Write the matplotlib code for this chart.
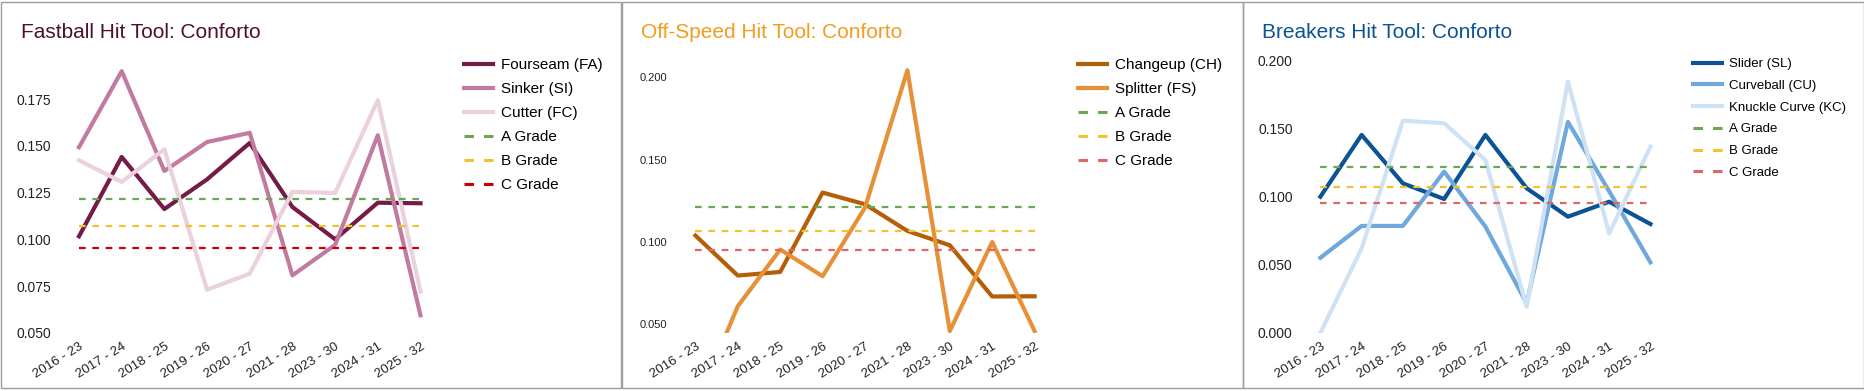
import matplotlib
matplotlib.use("Agg")
import matplotlib.pyplot as plt
from matplotlib.patches import Rectangle
from matplotlib.lines import Line2D

plt.rcParams['font.family'] = ['Liberation Sans', 'DejaVu Sans']

seasons = ['2016 - 23', '2017 - 24', '2018 - 25', '2019 - 26', '2020 - 27',
           '2021 - 28', '2023 - 30', '2024 - 31', '2025 - 32']

# grade thresholds (same in every panel)
grade_a = 0.1216
grade_b = 0.1070
grade_c = 0.0955

# fastballs
fourseam = [0.1016, 0.1441, 0.1162, 0.1321, 0.1516, 0.1173, 0.1000, 0.1196, 0.1193]
sinker = [0.1493, 0.1900, 0.1366, 0.1521, 0.1570, 0.0807, 0.0970, 0.1557, 0.0593]
cutter = [0.1423, 0.1307, 0.1482, 0.0730, 0.0816, 0.1254, 0.1248, 0.1745, 0.0721]

# off-speed
changeup = [0.1040, 0.0797, 0.0819, 0.1301, 0.1230, 0.1068, 0.0981, 0.0670, 0.0671]
splitter = [0.0000, 0.0611, 0.0955, 0.0793, 0.1210, 0.2044, 0.0460, 0.1001, 0.0460]

# breakers
slider = [0.1000, 0.1454, 0.1098, 0.0983, 0.1454, 0.1062, 0.0853, 0.0963, 0.0799]
curveball = [0.0551, 0.0785, 0.0785, 0.1184, 0.0780, 0.0216, 0.1550, 0.1040, 0.0517]
knuckle = [0.0000, 0.0620, 0.1559, 0.1540, 0.1270, 0.0191, 0.1846, 0.0730, 0.1368]

W, H = 1865, 391
fig = plt.figure(figsize=(W / 100, H / 100), dpi=100)

GREEN, YELLOW = '#6aa84f', '#f1c232'

def panel(left, right, ylim, yticks, ylab_size, series, c_color, title, title_color,
          title_x, leg_x, leg_top, leg_size, leg_space, box):
    # axes spans y pixel 60 .. 332.7
    bottom = (H - 332.7) / H
    top = (H - 60) / H
    ax = fig.add_axes([left / W, bottom, (right - left) / W, top - bottom])
    x = list(range(len(seasons)))
    handles = []
    for label, vals, col in series:
        ax.plot(x, vals, color=col, lw=3.0)
        handles.append(Line2D([], [], color=col, lw=3.0, label=label))
    for g, col, lab in [(grade_a, GREEN, 'A Grade'), (grade_b, YELLOW, 'B Grade'),
                        (grade_c, c_color, 'C Grade')]:
        ax.plot(x, [g] * len(x), color=col, lw=1.6, ls=(0, (3, 3)))
        handles.append(Line2D([], [], color=col, lw=2.2, ls=(0, (3.1, 3.3)), label=lab))
    ax.set_xlim(-0.3, len(x) - 1 + 0.3)
    ax.set_ylim(*ylim)
    ax.set_yticks(yticks)
    ax.set_yticklabels(['%.3f' % v for v in yticks], fontsize=ylab_size, color='#222222')
    ax.set_xticks(x)
    ax.set_xticklabels(seasons, rotation=32, ha='right', rotation_mode='anchor',
                       fontsize=9.5, color='#222222')
    ax.tick_params(length=0)
    ax.tick_params(axis='y', pad=11)
    ax.tick_params(axis='x', pad=6)
    for s in ax.spines.values():
        s.set_visible(False)
    fig.text(title_x / W, 1 - 32 / H, title, color=title_color, fontsize=15, va='center')
    # legend handle ~29 px wide
    hl = 29 / (leg_size * 100 / 72)
    ax.legend(handles=handles, loc='upper left', bbox_to_anchor=(leg_x / W, 1 - leg_top / H),
              bbox_transform=fig.transFigure, frameon=False, fontsize=leg_size,
              handlelength=hl, handletextpad=0.5, labelspacing=leg_space,
              borderpad=0, borderaxespad=0)
    # panel border
    fig.patches.append(Rectangle((box[0] / W, 1 - 388 / H), (box[1] - box[0]) / W, 386 / H,
                                 transform=fig.transFigure, fill=False,
                                 edgecolor='#9e9e9e', lw=1.0))
    return ax

panel(66.2, 433.3, (0.05, 0.196), [0.05, 0.075, 0.1, 0.125, 0.15, 0.175], 10,
      [('Fourseam (FA)', fourseam, '#741b47'),
       ('Sinker (SI)', sinker, '#c27ba0'),
       ('Cutter (FC)', cutter, '#ead1dc')],
      '#cc0000', 'Fastball Hit Tool: Conforto', '#4c1130', 21, 464, 58, 11, 0.66, (1, 621.5))

panel(682.7, 1047.3, (0.045, 0.2106), [0.05, 0.1, 0.15, 0.2], 8,
      [('Changeup (CH)', changeup, '#b45f06'),
       ('Splitter (FS)', splitter, '#e69138')],
      '#e06666', 'Off-Speed Hit Tool: Conforto', '#f39c1f', 641, 1078, 58, 11, 0.66, (621.5, 1243))

panel(1308, 1662.8, (0.0, 0.2005), [0.0, 0.05, 0.1, 0.15, 0.2], 10,
      [('Slider (SL)', slider, '#0b5394'),
       ('Curveball (CU)', curveball, '#6fa8dc'),
       ('Knuckle Curve (KC)', knuckle, '#cfe2f3')],
      '#e06666', 'Breakers Hit Tool: Conforto', '#0b5394', 1262, 1693, 58, 9.5, 0.72, (1243, 1864))

fig.savefig('out.png', dpi=100)
